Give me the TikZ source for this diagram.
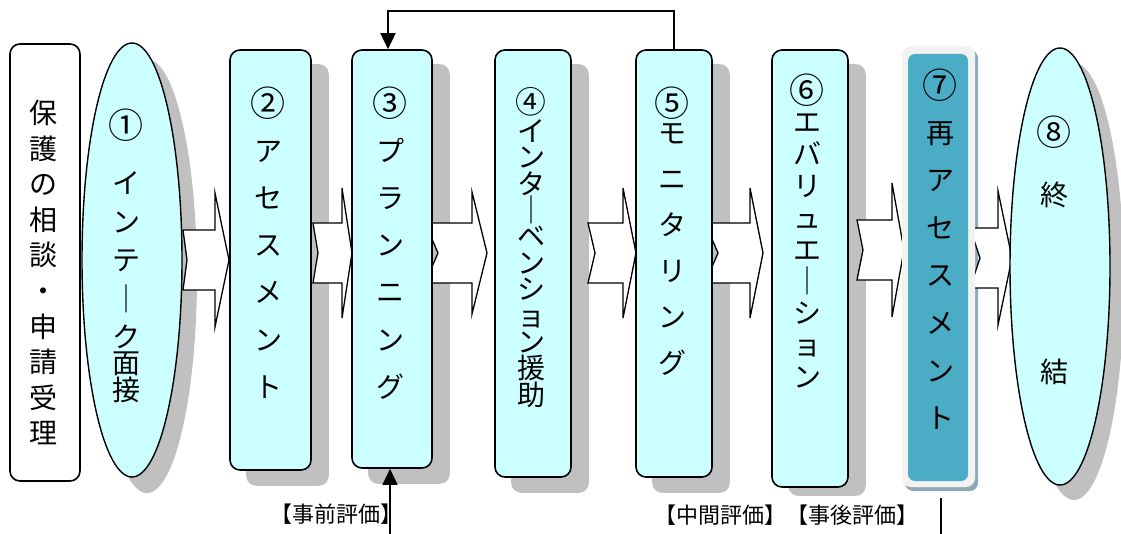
\documentclass[tikz,border=0pt]{standalone}
\usepackage{fontspec}
\setmainfont{Noto Sans CJK JP}
\usetikzlibrary{arrows.meta,shapes.geometric}
\definecolor{cyanf}{HTML}{CCFFFF}
\definecolor{shadowc}{HTML}{C0C0C0}
\definecolor{tealf}{HTML}{4BACC6}
\definecolor{glowc}{HTML}{F2F2F2}
\definecolor{glowsh}{HTML}{8FAAB5}
\pgfdeclarelayer{shadowlayer}
\pgfdeclarelayer{arrowlayer}
\pgfsetlayers{shadowlayer,arrowlayer,main}
\newcommand\jst{\rule[-0.12em]{0pt}{1em}}
\newcommand\vbar{｜}
\newcommand\cn[1]{\smash{\raisebox{-0.1em}{\scalebox{1.25}{#1}}}}
\newcommand\cns[1]{\smash{\raisebox{-0.04em}{\scalebox{1.1}{#1}}}}
\newcommand\vf[1]{\fontsize{28}{#1}\selectfont\lineskiplimit=-1000pt\lineskip=0pt}
% L, notch, head start, tip, centre y, body half, head half
\newcommand\blockarrow[7]{\draw[barrow] (#1,#5-#6) -- (#3,#5-#6) -- (#3,#5-#7) -- (#4,#5) -- (#3,#5+#7) -- (#3,#5+#6) -- (#1,#5+#6) -- (#1+#2,#5) -- cycle;}
\begin{document}
\begin{tikzpicture}[x=1pt,y=-1pt,
  box/.style={draw=black, line width=1.6pt, fill=cyanf, rounded corners=10pt, inner sep=0pt},
  oval/.style={ellipse, draw=black, line width=1.4pt, fill=cyanf, inner sep=0pt},
  vtext/.style={align=center, inner sep=0pt},
  barrow/.style={draw=black, line width=1.3pt, fill=white, line join=miter},
  fb/.style={draw=black, line width=1.6pt, -{Triangle[length=16pt,width=15pt]}},
  plain/.style={draw=black, line width=1.6pt},
  lab/.style={inner sep=0pt, font=\fontsize{22}{22}\selectfont}]
\useasboundingbox (0,0) rectangle (1121,534);

% boxes
\node[box, fill=white, minimum width=70pt, minimum height=437pt] (b0) at (45,262.5) {};
\node[oval, minimum width=100pt, minimum height=434pt] (e1) at (132,260) {};
\node[box, minimum width=81pt, minimum height=420pt] (b2) at (270.5,260) {};
\node[box, minimum width=80pt, minimum height=418pt] (b3) at (392,259) {};
\node[box, minimum width=76pt, minimum height=427pt] (b4) at (533,263.5) {};
\node[box, minimum width=76pt, minimum height=427pt] (b5) at (674,263.5) {};
\node[box, minimum width=76pt, minimum height=437pt] (b6) at (810,268.5) {};
\node[fill=glowc, rounded corners=9pt, inner sep=0pt, minimum width=73pt, minimum height=441pt] (b7) at (938.5,266.5) {};
\node[fill=tealf, rounded corners=7pt, inner sep=0pt, minimum width=60pt, minimum height=427pt] (b7i) at (938,267.5) {};
\node[oval, minimum width=100pt, minimum height=437pt] (e8) at (1060,266.5) {};

% shadows
\begin{pgfonlayer}{shadowlayer}
\fill[shadowc] ([shift={(15,16)}]e1.center) ellipse [x radius=50, y radius=217];
\foreach \n in {b2,b3,b4,b5}{
  \fill[shadowc, rounded corners=10pt] ([shift={(17,15)}]\n.north west) rectangle ([shift={(17,15)}]\n.south east);
}
\fill[shadowc, rounded corners=10pt] ([shift={(17,15)}]b6.north west) rectangle ([shift={(17,8)}]b6.south east);
\fill[glowsh, rounded corners=9pt] ([shift={(3,4)}]b7.north west) rectangle ([shift={(3,4)}]b7.south east);
\fill[shadowc] ([shift={(14,15)}]e8.center) ellipse [x radius=50, y radius=218.5];
\end{pgfonlayer}

% block arrows
\begin{pgfonlayer}{arrowlayer}
\blockarrow{183}{4}{215}{229}{260}{30}{67}
\blockarrow{313}{5}{342}{352}{253}{30}{65}
\blockarrow{425}{13}{472}{487}{253}{30}{61}
\blockarrow{588}{7}{623}{636}{253}{30}{65}
\blockarrow{705}{13}{750}{763}{253}{30}{65}
\blockarrow{857}{6}{892}{904}{250}{30}{67}
\blockarrow{970}{10}{998}{1012}{258}{30}{67}
\end{pgfonlayer}

% texts
\node[vtext, font=\vf{35.6}] (t0) at (43,273) {\jst 保\\護\\の\\相\\談\\・\\申\\請\\受\\理\jst};
\node[vtext, font=\vf{38.5}] (t1) at (126,257.5) {\jst\cn{①}\\[19.5pt]イ\\ン\\テ\\\vbar\\ク\\[-12.5pt]面\\[-11.5pt]接\jst};
\node[vtext, font=\vf{47.3}] (t2) at (268,245) {\jst\cn{②}\\ア\\セ\\ス\\メ\\ン\\ト\jst};
\node[vtext, font=\vf{47.3}] (t3) at (390,245) {\jst\cn{③}\\プ\\ラ\\ン\\ニ\\ン\\グ\jst};
\node[vtext, font=\vf{26.4}] (t4) at (531,248) {\jst\cns{④}\\[3pt]イ\\ン\\タ\\\vbar\\ベ\\ン\\シ\\ョ\\ン\\援\\助\jst};
\node[vtext, font=\vf{46}] (t5) at (672,233) {\jst\cn{⑤}\\[-16pt]モ\\ニ\\タ\\リ\\ン\\グ\jst};
\node[vtext, font=\vf{31.9}] (t6) at (807,233.5) {\jst\cn{⑥}\\エ\\バ\\リ\\ュ\\エ\\\vbar\\シ\\ョ\\ン\jst};
\node[vtext, font=\vf{47.6}] (t7) at (940,251.5) {\jst\cn{⑦}\\再\\ア\\セ\\ス\\メ\\ン\\ト\jst};
\node[vtext, font=\vf{63}] (t8) at (1054,252) {\jst\cn{⑧}\\終\\[114pt]結\jst};

% labels
\node[lab] (l1) at (336,514) {【事前評価】};
\node[lab] (l2) at (786,515) {【中間評価】【事後評価】};

% connectors
\draw[fb] (b5.north) -- ++(0,-38) -| ([xshift=-4pt]b3.north);
\coordinate (bot3) at (390,534);
\draw[fb] (bot3) -- (bot3 |- b3.south);
\coordinate (bot7) at (941,534);
\draw[plain] (bot7 |- b7.south) ++(0,11) -- (bot7);
\end{tikzpicture}
\end{document}
